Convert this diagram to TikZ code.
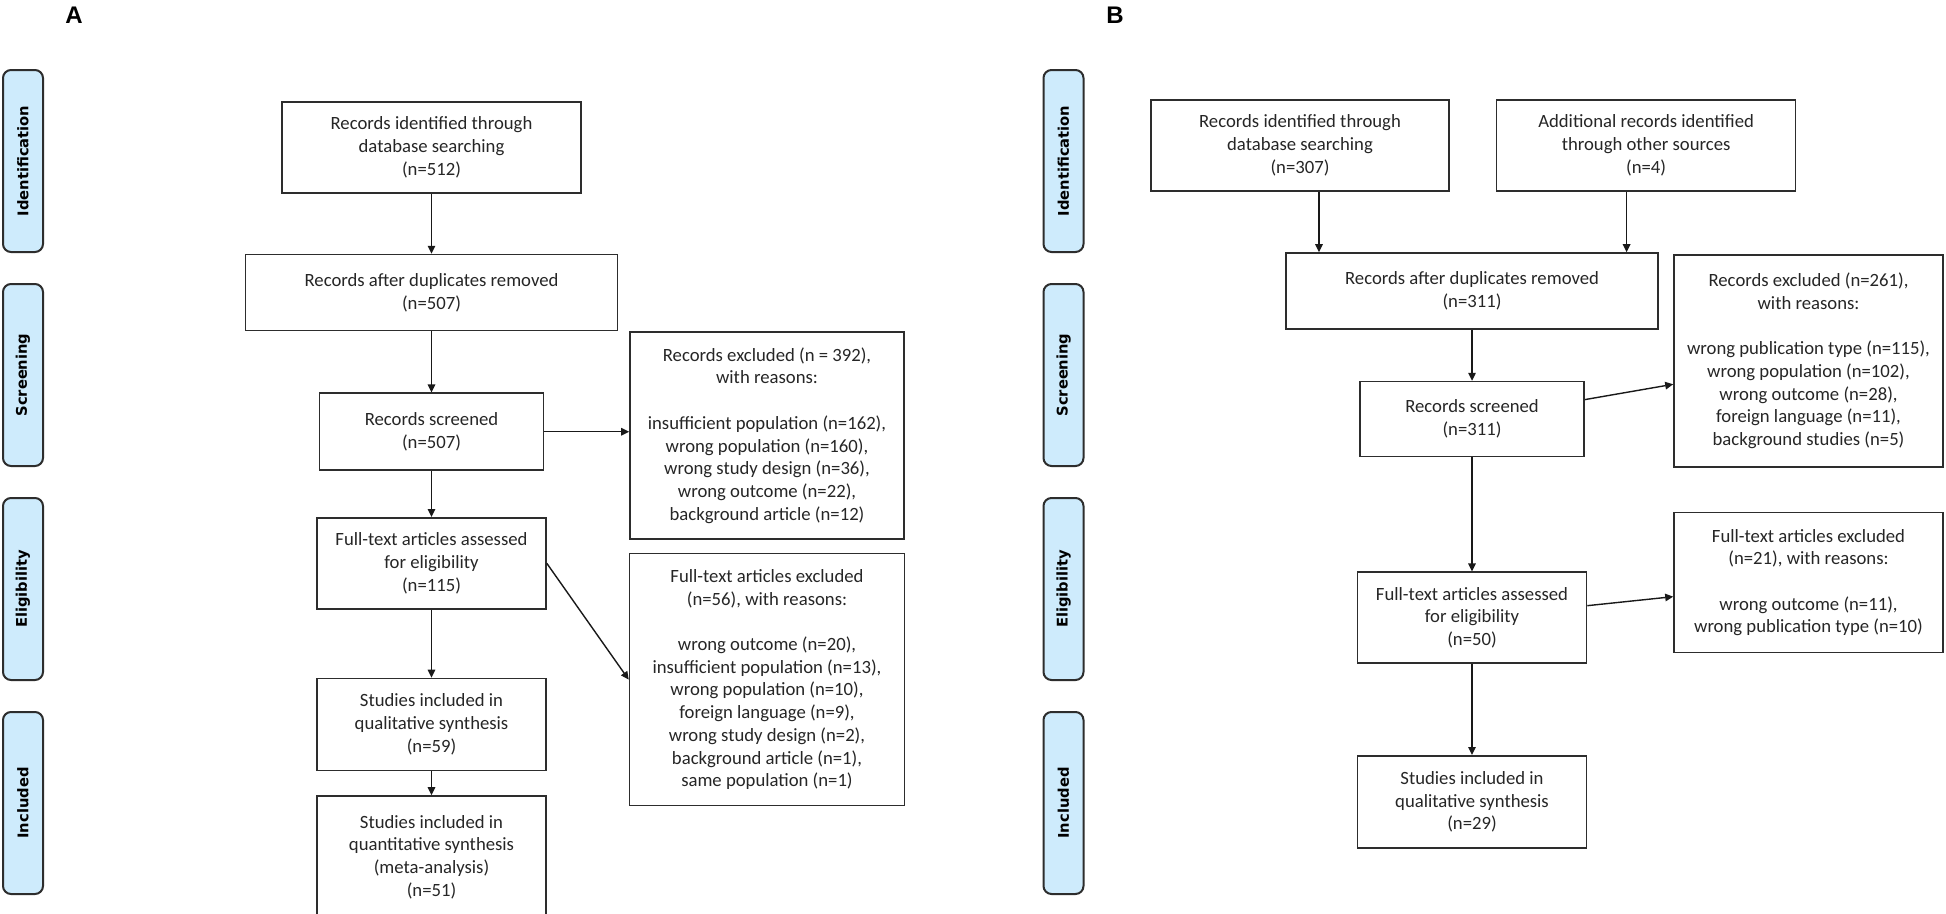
\documentclass[tikz,border=0pt]{standalone}
\usepackage{fontspec}
\setmainfont{Carlito}
\newfontfamily\tabfont{DejaVu Sans}
\newfontfamily\headfont{Liberation Sans}
\usepackage{tikz}
\usetikzlibrary{arrows.meta,positioning,calc}
\definecolor{tabBlue}{RGB}{206,235,252}
\definecolor{lineGray}{RGB}{45,45,45}
\tikzset{
  flowBox/.style 2 args = {rectangle, draw=lineGray, line width=1.6pt, fill=white,
                     align=center, inner sep=2pt, text=black!85,
                     minimum width=#1pt, minimum height=#2pt,
                     font=\fontsize{18.7}{22.7}\selectfont},
  flowArrow/.style = {-{Triangle[length=8pt,width=7.5pt]}, line width=1.4pt, draw=black!90},
  stageTab/.style  = {rectangle, rounded corners=8pt, draw=lineGray, line width=2pt,
                     fill=tabBlue, rotate=90, minimum width=182pt, minimum height=40pt,
                     inner sep=0pt, font=\tabfont\bfseries\fontsize{14.7}{16}\selectfont},
  panelTag/.style  = {inner sep=0pt, font=\headfont\bfseries\fontsize{24}{24}\selectfont},
}
\newcommand{\gapline}{\\[\baselineskip]}

\begin{document}
\begin{tikzpicture}[x=1pt,y=-1pt]
  \path[use as bounding box,fill=white](0,0)rectangle(1946,913);
  \node[panelTag](tagA)at(74,15){A};
  \node[panelTag](tagB)at(1115,15){B};
  \foreach \lbl/\yy in {Identification/161,Screening/375,Eligibility/589,Included/803}{
    \node[stageTab](tA\lbl)at(23,\yy){\lbl};
    \node[stageTab](tB\lbl)at(1063.5,\yy){\lbl};}
  % panel A
  \node[flowBox={299}{91}](a1)at(431.5,147.5){Records identified through\\database searching\\(n=512)};
  \node[flowBox={372}{76},below=60pt of a1](a2){Records after duplicates removed\\(n=507)};
  \node[flowBox={224}{77},below=61pt of a2](a3){Records screened\\(n=507)};
  \node[flowBox={229}{91},below=46pt of a3](a4){Full-text articles assessed\\for eligibility\\(n=115)};
  \node[flowBox={229}{92},below=68pt of a4](a5){Studies included in\\qualitative synthesis\\(n=59)};
  \node[flowBox={229}{122},below=24pt of a5](a6){Studies included in\\quantitative synthesis\\(meta-analysis)\\(n=51)};
  \node[flowBox={274}{207}](ax1)at(767,435.5){Records excluded (n = 392),\\with reasons:\gapline
    insufficient population (n=162),\\wrong population (n=160),\\wrong study design (n=36),\\
    wrong outcome (n=22),\\background article (n=12)};
  \node[flowBox={275}{252},below=13pt of ax1](ax2){Full-text articles excluded\\(n=56), with reasons:\gapline
    wrong outcome (n=20),\\insufficient population (n=13),\\wrong population (n=10),\\
    foreign language (n=9),\\wrong study design (n=2),\\background article (n=1),\\same population (n=1)};
  \foreach \x/\y in {a1/a2,a2/a3,a3/a4,a4/a5,a5/a6}{\draw[flowArrow](\x)--(\y);}
  \draw[flowArrow](a3.east)--(a3.east-|ax1.west);
  \draw[flowArrow](a4.east)--(ax2.west);
  % panel B
  \node[flowBox={298}{91}](b1)at(1300,145.5){Records identified through\\database searching\\(n=307)};
  \node[flowBox={299}{91},right=46pt of b1](b2){Additional records identified\\through other sources\\(n=4)};
  \node[flowBox={372}{76}](b3)at(1472,291){Records after duplicates removed\\(n=311)};
  \node[flowBox={224}{75},below=51pt of b3](b4){Records screened\\(n=311)};
  \node[flowBox={229}{91},below=114pt of b4](b5){Full-text articles assessed\\for eligibility\\(n=50)};
  \node[flowBox={229}{92},below=91pt of b5](b6){Studies included in\\qualitative synthesis\\(n=29)};
  \node[flowBox={269}{212}](bx1)at(1808.5,361){Records excluded (n=261),\\with reasons:\gapline
    wrong publication type (n=115),\\wrong population (n=102),\\wrong outcome (n=28),\\
    foreign language (n=11),\\background studies (n=5)};
  \node[flowBox={269}{140},below=44pt of bx1](bx2){Full-text articles excluded\\(n=21), with reasons:\gapline
    wrong outcome (n=11),\\wrong publication type (n=10)};
  \draw[flowArrow]([xshift=19pt]b1.south)--([xshift=19pt]b1.south|-b3.north);
  \draw[flowArrow]([xshift=-19.5pt]b2.south)--([xshift=-19.5pt]b2.south|-b3.north);
  \foreach \x/\y in {b3/b4,b4/b5,b5/b6,b4/bx1,b5/bx2}{\draw[flowArrow](\x)--(\y);}
\end{tikzpicture}
\end{document}
